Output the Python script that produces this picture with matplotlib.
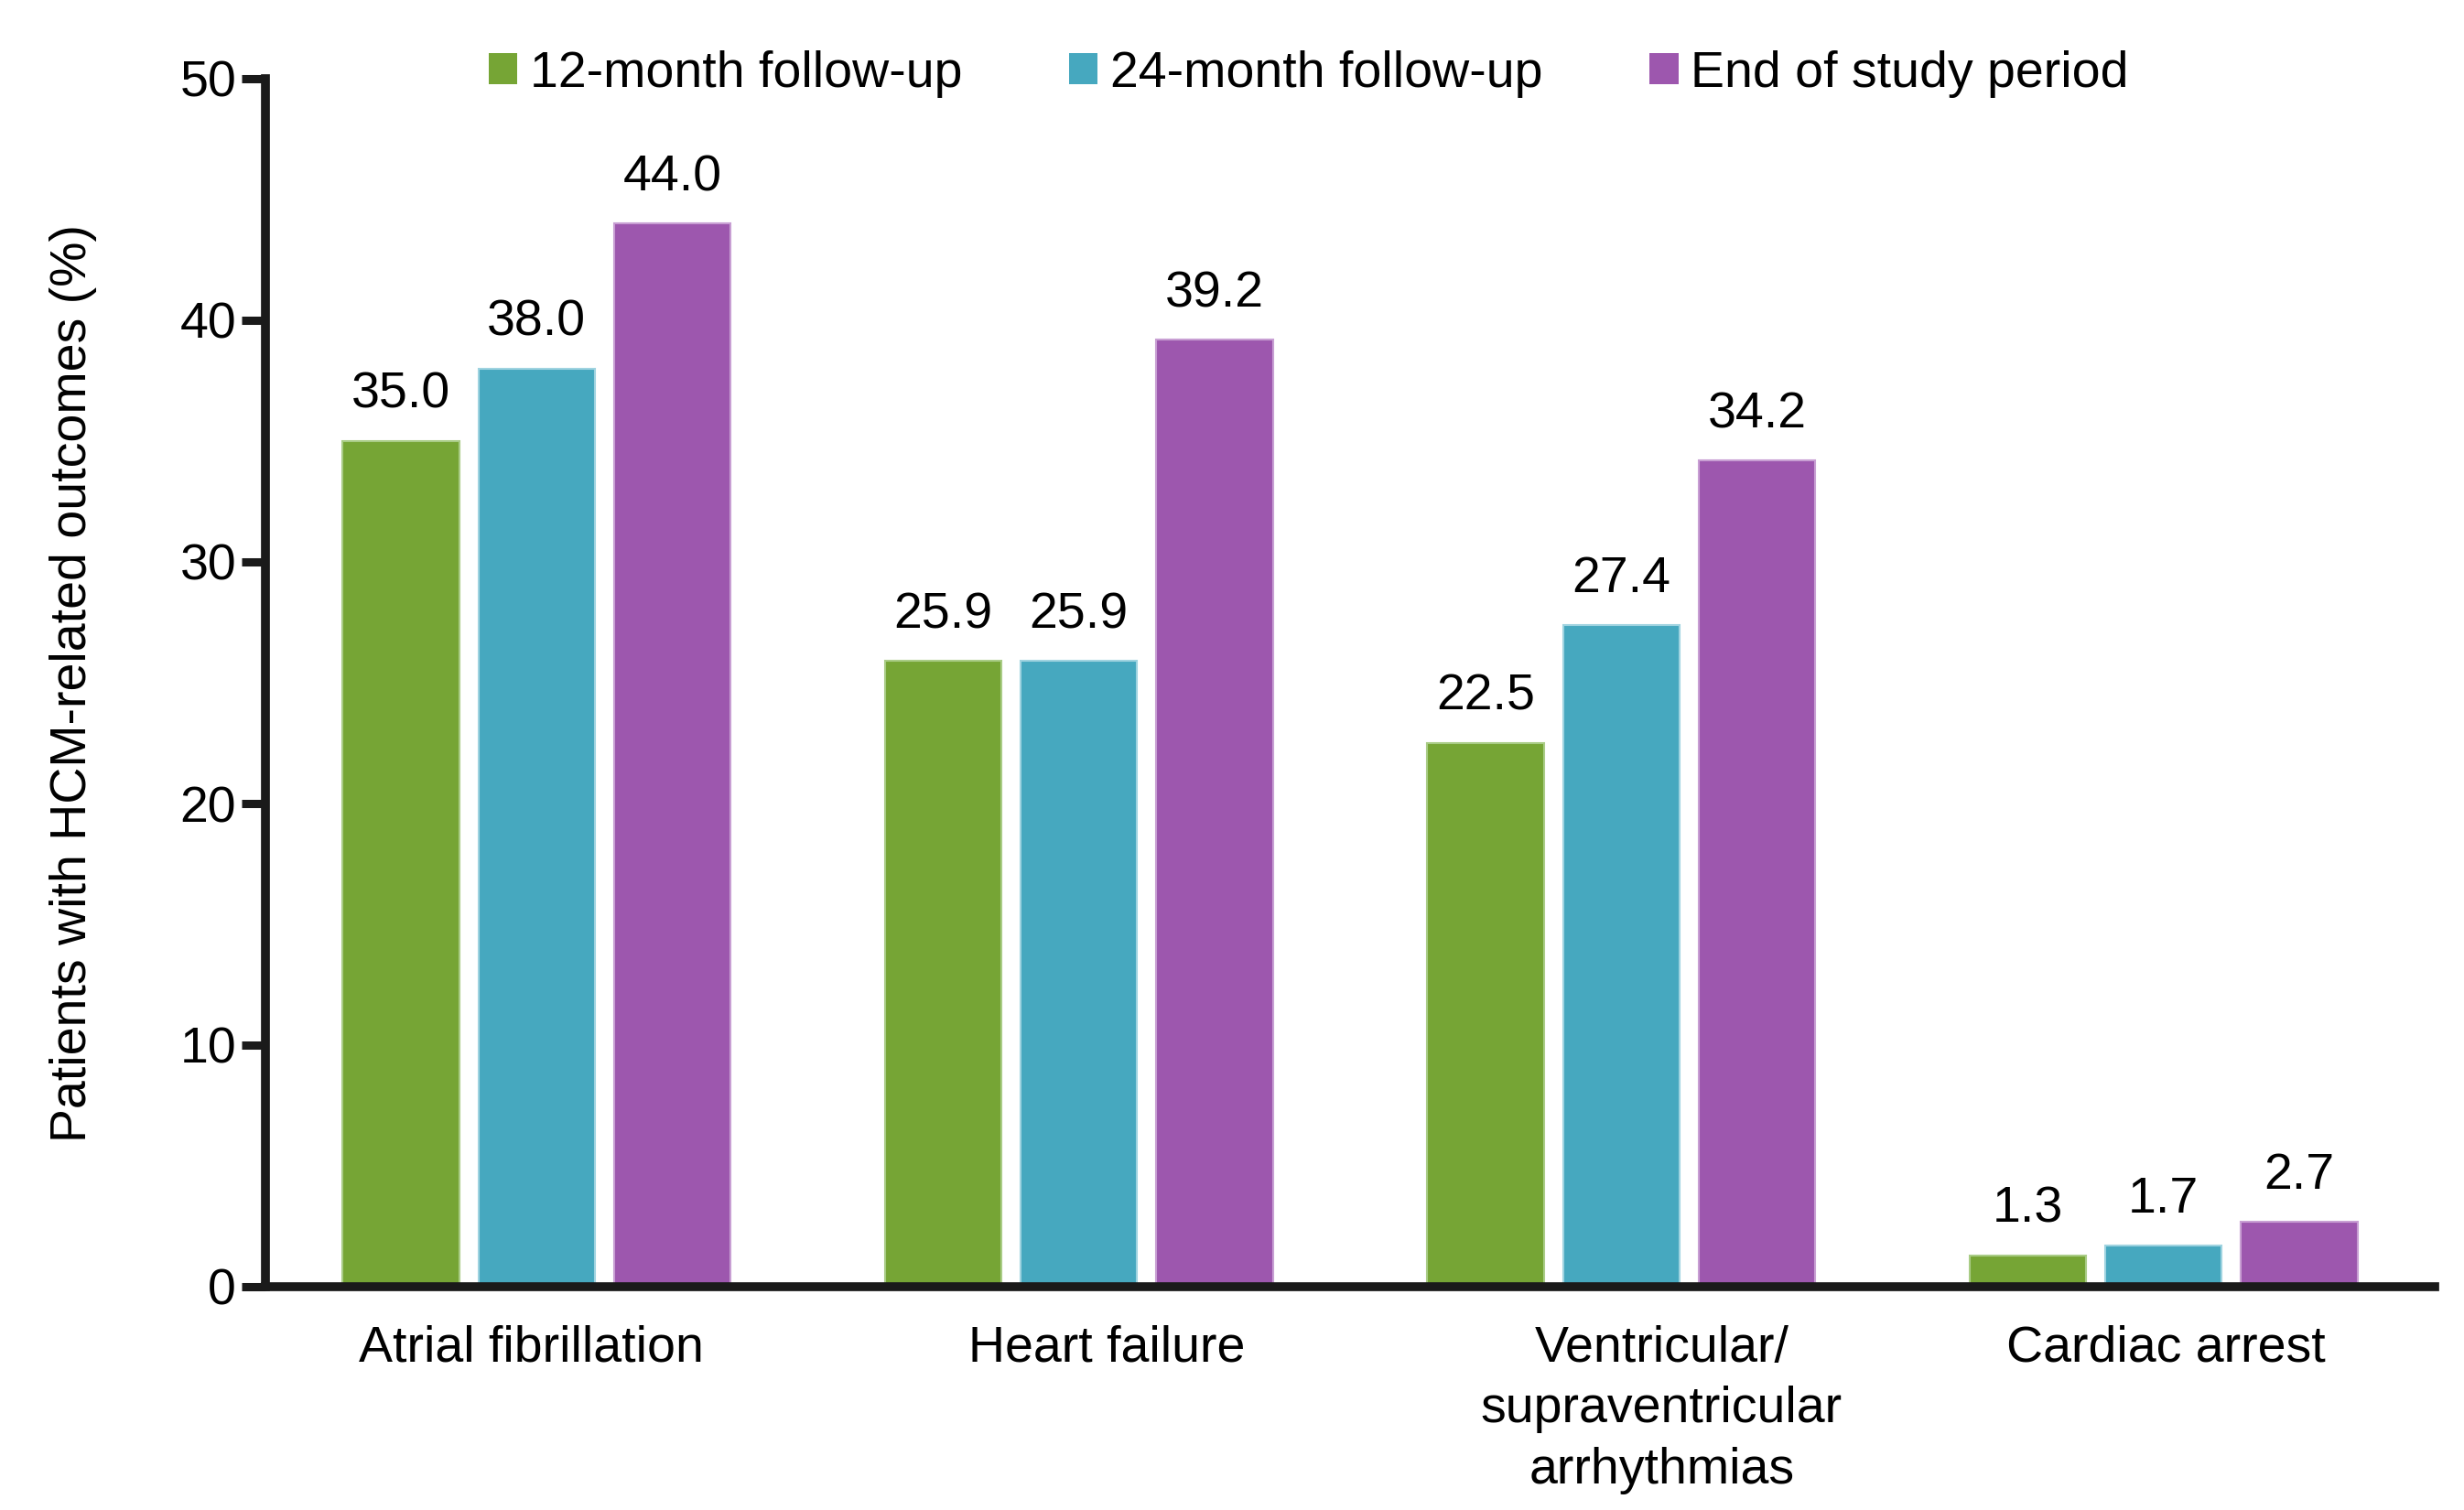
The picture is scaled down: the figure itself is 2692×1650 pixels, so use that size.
import matplotlib
matplotlib.use("Agg")
import matplotlib.pyplot as plt
from matplotlib.patches import Patch
from matplotlib.transforms import ScaledTranslation
import numpy as np

plt.rcParams['font.family'] = ['Liberation Sans', 'DejaVu Sans']

categories = ['Atrial fibrillation', 'Heart failure',
              'Ventricular/\nsupraventricular\narrhythmias', 'Cardiac arrest']
series_names = ['12-month follow-up', '24-month follow-up', 'End of study period']
m12 = [35.0, 25.9, 22.5, 1.3]
m24 = [38.0, 25.9, 27.4, 1.7]
end_study = [44.0, 39.2, 34.2, 2.7]
yticks = [0, 10, 20, 30, 40, 50]

colors = ['#76a535', '#46a8bf', '#9d57ae']
edges = ['#a9cc86', '#9fd3e0', '#c89fd3']
fs = 40

fig = plt.figure(figsize=(26.92, 16.5), dpi=100)
ax = fig.add_axes([290/2692, 1 - 1406/1650, (2660-290)/2692, (1406-86)/1650])

x = np.arange(len(categories))
width = 0.215
offsets = [-0.25, 0, 0.25]
handles = []
for vals, off, c, e, name in zip([m12, m24, end_study], offsets, colors, edges, series_names):
    bars = ax.bar(x + off, vals, width, color=c, edgecolor=e, linewidth=1.5, zorder=2)
    for b, v in zip(bars, vals):
        ax.annotate(f'{v:.1f}', (b.get_x() + b.get_width()/2, v),
                    xytext=(0, 26), textcoords='offset points',
                    ha='center', va='baseline', fontsize=fs)
    handles.append(Patch(facecolor=c, edgecolor='none', label=name))

ax.set_xlim(-0.5, 3.5)
ax.set_ylim(0, 50)
ax.set_yticks(yticks)
ax.set_xticks(x)
ax.set_xticklabels(categories, fontsize=fs, linespacing=1.37)
ax.tick_params(axis='x', length=0, pad=30)
ax.tick_params(axis='y', direction='out', length=19, width=6.5, color='#1a1a1a',
               labelsize=fs, pad=4)

# labels in the original sit a little off the group centres
shifts = [-6, 30, 44, 3]
for lab, dx in zip(ax.get_xticklabels(), shifts):
    lab.set_transform(lab.get_transform() + ScaledTranslation(dx/100, 0, fig.dpi_scale_trans))

for s in ['top', 'right']:
    ax.spines[s].set_visible(False)
for s in ['left', 'bottom']:
    ax.spines[s].set_linewidth(7)
    ax.spines[s].set_color('#1a1a1a')
    ax.spines[s].set_capstyle('projecting')

fig.text(80/2692, 1 - 746/1650, 'Patients with HCM-related outcomes (%)',
         rotation=90, ha='center', va='center', fontsize=fs)

fig.legend(handles=handles, loc='center', bbox_to_anchor=(1430/2692, 1 - 81/1650),
           ncol=3, frameon=False, fontsize=fs, handlelength=0.56, handleheight=0.56,
           handletextpad=0.25, columnspacing=2.1, borderpad=0)

fig.savefig('out.png', dpi=100)
